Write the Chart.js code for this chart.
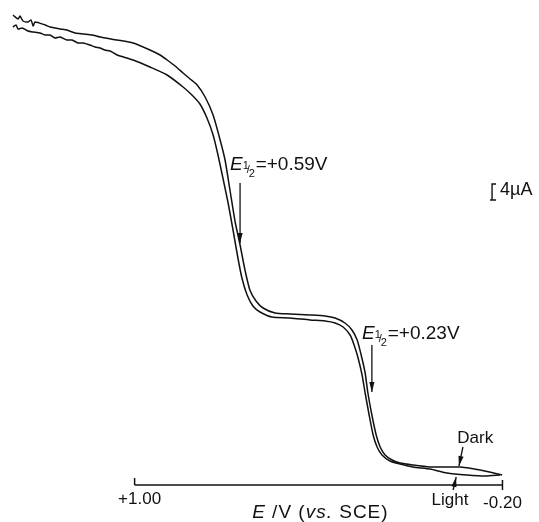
<!DOCTYPE html>
<html lang="en">

<head>
  <meta charset="UTF-8">
  <title>Voltamograma</title>
  <script src="https://cdn.jsdelivr.net/npm/chart.js"></script>
  <style>
    body { margin: 0; background: #fff; }
    canvas { display: block; }
  </style>
</head>

<body>
  <canvas id="grafico" width="539" height="522"></canvas>
</body>

</html>

<script>
  // potencial (V vs. SCE) e corrente (uA)
  const potencialA = [1.397, 1.380, 1.374, 1.364, 1.348, 1.338, 1.331, 1.325, 1.292, 1.276, 1.243, 1.221, 1.194, 1.168,
    1.139, 1.113, 1.057, 1.005, 0.950, 0.917, 0.894, 0.868, 0.842, 0.819, 0.796, 0.770, 0.744, 0.721, 0.705, 0.689,
    0.672, 0.656, 0.640, 0.624, 0.604, 0.581, 0.542, 0.493, 0.428, 0.379, 0.346, 0.314, 0.291, 0.274, 0.261, 0.248,
    0.239, 0.226, 0.212, 0.199, 0.183, 0.160, 0.134, 0.092, 0.036, -0.013, -0.062, -0.127, -0.199];
  const correnteA = [117.5, 116.5, 117.25, 116, 115.75, 116.25, 114.75, 115.75, 115, 114.5, 114, 113.75, 113, 112.75,
    112.5, 112, 111.25, 110.5, 108.75, 107.5, 106.25, 104.75, 103, 101.5, 100, 97, 92.5, 86.25, 81.25, 73.75,
    65.75, 60, 53.75, 48.75, 46, 44.25, 43, 42.75, 42.5, 42.25, 41.75, 40.5, 38.75, 36.25, 32.5, 28,
    23, 17.5, 12.5, 9.5, 7.5, 6.25, 5.5, 5, 4.5, 4.5, 4.5, 3.75, 2.5];

  const potencialB = [1.397, 1.387, 1.380, 1.367, 1.348, 1.331, 1.309, 1.292, 1.276, 1.260, 1.243, 1.221, 1.204, 1.185,
    1.168, 1.146, 1.129, 1.113, 1.097, 1.080, 1.057, 1.005, 0.950, 0.894, 0.842, 0.813, 0.787, 0.764, 0.744, 0.728,
    0.712, 0.695, 0.679, 0.663, 0.650, 0.633, 0.614, 0.591, 0.552, 0.493, 0.428, 0.379, 0.346, 0.320, 0.297, 0.284,
    0.271, 0.258, 0.248, 0.235, 0.222, 0.209, 0.193, 0.167, 0.134, 0.092, 0.036, -0.019, -0.084, -0.143, -0.192];
  const correnteB = [114.5, 115, 114, 114.25, 113.5, 113.25, 113, 112.5, 112.5, 111.75, 112, 111.25, 111.25, 110.5,
    110.5, 110, 109.5, 109.25, 108.75, 108.5, 107.5, 106.25, 104.5, 102.5, 99.5, 97.5, 95.25, 91.75, 87.5, 82.5,
    76.75, 70.5, 63.75, 56.75, 51.75, 47.5, 44.75, 43.25, 42, 41.75, 41.25, 41, 40.5, 39.5, 37.5, 35,
    31.75, 27.5, 23, 17.5, 12.5, 9.5, 7.5, 6, 5.25, 4.5, 4, 3, 2.5, 2.25, 2.5];

  // eixo de potencial
  const eixoValores = [1.00, -0.20];
  const eixoRotulos = ['+1.00', '-0.20'];
  const meiaOndaTextos = ['=+0.59V', '=+0.23V'];

  const fonte = '"Liberation Sans", Arial, sans-serif';

  function pontos(xs, ys) {
    let lista = [];
    for (let i = 0; i < xs.length; i++) {
      lista.push({ x: xs[i], y: ys[i] });
    }
    return lista;
  }

  function seta(ctx, x1, y1, x2, y2) {
    ctx.beginPath();
    ctx.moveTo(x1, y1);
    ctx.lineTo(x2, y2);
    ctx.stroke();
    const ang = Math.atan2(y2 - y1, x2 - x1);
    const l = 10, w = 2.6;
    ctx.beginPath();
    ctx.moveTo(x2, y2);
    ctx.lineTo(x2 - l * Math.cos(ang) + w * Math.sin(ang), y2 - l * Math.sin(ang) - w * Math.cos(ang));
    ctx.lineTo(x2 - l * Math.cos(ang) - w * Math.sin(ang), y2 - l * Math.sin(ang) + w * Math.cos(ang));
    ctx.closePath();
    ctx.fill();
  }

  function meiaOnda(ctx, x, y, texto) {
    ctx.textAlign = 'left';
    ctx.font = 'italic 19px ' + fonte;
    ctx.fillText('E', x, y);
    let w = ctx.measureText('E').width;
    ctx.font = '11px ' + fonte;
    ctx.fillText('1', x + w, y - 1);
    ctx.fillText('/', x + w + 4, y + 3);
    ctx.fillText('2', x + w + 6, y + 7);
    ctx.font = '19px ' + fonte;
    ctx.fillText(texto, x + w + 13, y);
  }

  // desenha eixo, rotulos, setas e barra de escala
  const anotacoes = {
    id: 'anotacoes',
    afterDraw(chart) {
      const ctx = chart.ctx;
      const sx = chart.scales.x;
      const sy = chart.scales.y;
      const X = v => sx.getPixelForValue(v);
      const Y = v => sy.getPixelForValue(v);
      ctx.save();
      ctx.strokeStyle = '#111';
      ctx.fillStyle = '#111';
      ctx.lineWidth = 1.5;

      // linha do eixo
      const y0 = Y(0);
      ctx.beginPath();
      ctx.moveTo(X(eixoValores[0]), y0);
      ctx.lineTo(X(eixoValores[1]), y0);
      ctx.moveTo(X(eixoValores[0]), y0 - 7);
      ctx.lineTo(X(eixoValores[0]), y0);
      ctx.moveTo(X(eixoValores[1]), y0 - 5);
      ctx.lineTo(X(eixoValores[1]), y0 + 5);
      ctx.stroke();

      ctx.font = '17px ' + fonte;
      ctx.textAlign = 'center';
      ctx.fillText(eixoRotulos[0], X(eixoValores[0]) + 5, Y(-4.75));
      ctx.fillText(eixoRotulos[1], X(eixoValores[1]), Y(-5.75));

      // titulo do eixo
      ctx.textAlign = 'left';
      ctx.letterSpacing = '1px';
      let xt = X(0.385) - 71;
      const yt = Y(-8.25);
      ctx.font = 'italic 19px ' + fonte;
      ctx.fillText('E', xt, yt);
      xt += ctx.measureText('E ').width;
      ctx.font = '19px ' + fonte;
      ctx.fillText('/V (', xt, yt);
      xt += ctx.measureText('/V (').width;
      ctx.font = 'italic 19px ' + fonte;
      ctx.fillText('vs.', xt, yt);
      xt += ctx.measureText('vs. ').width;
      ctx.font = '19px ' + fonte;
      ctx.fillText('SCE)', xt, yt);
      ctx.letterSpacing = '0px';

      // meias ondas
      meiaOnda(ctx, X(0.689), Y(78.75), meiaOndaTextos[0]);
      meiaOnda(ctx, X(0.258), Y(36.5), meiaOndaTextos[1]);
      ctx.lineWidth = 1.3;
      seta(ctx, X(0.656), Y(75.5), X(0.656), Y(60.5));
      seta(ctx, X(0.226), Y(35), X(0.226), Y(23.25));

      // Dark / Light
      ctx.font = '17px ' + fonte;
      ctx.textAlign = 'center';
      ctx.fillText('Dark', X(-0.111), Y(10.5));
      ctx.fillText('Light', X(-0.029), Y(-5));
      seta(ctx, X(-0.071), Y(9.5), X(-0.058), Y(4.75));
      seta(ctx, X(-0.039), Y(-1.25), X(-0.049), Y(2));

      // barra de escala 4 uA
      const xb = X(-0.166);
      ctx.lineWidth = 1.4;
      ctx.beginPath();
      ctx.moveTo(xb + 4, Y(75.25));
      ctx.lineTo(xb, Y(75.25));
      ctx.lineTo(xb, Y(71.25));
      ctx.moveTo(xb - 2, Y(71.25));
      ctx.lineTo(xb + 4, Y(71.25));
      ctx.stroke();
      ctx.textAlign = 'left';
      ctx.font = '18px ' + fonte;
      ctx.fillText('4\u00b5A', X(-0.192), Y(72.5));
      ctx.restore();
    }
  };

  function plotarGrafico() {
    const dados = {
      datasets: [{
        label: 'Dark',
        data: pontos(potencialA, correnteA),
        showLine: true,
        borderColor: '#111',
        borderWidth: 1.5,
        pointRadius: 0,
        tension: 0.2
      }, {
        label: 'Light',
        data: pontos(potencialB, correnteB),
        showLine: true,
        borderColor: '#111',
        borderWidth: 1.5,
        pointRadius: 0,
        tension: 0.2
      }]
    };

    const config = {
      type: 'scatter',
      data: dados,
      options: {
        responsive: false,
        animation: false,
        devicePixelRatio: 1,
        layout: { padding: { left: 12, right: 12, top: 5, bottom: 17 } },
        plugins: { legend: { display: false }, tooltip: { enabled: false } },
        scales: {
          x: { type: 'linear', reverse: true, min: -0.28, max: 1.40, display: false },
          y: { min: -5, max: 120, display: false }
        }
      },
      plugins: [anotacoes]
    };

    new Chart(document.getElementById('grafico'), config);
  }

  plotarGrafico();
</script>
